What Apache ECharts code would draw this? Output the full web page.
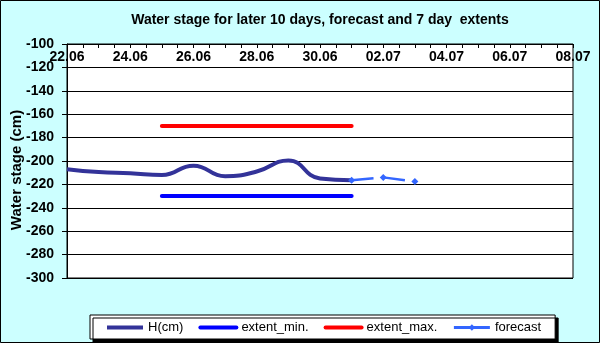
<!DOCTYPE html>
<html>
<head>
<meta charset="utf-8">
<script src="https://cdn.jsdelivr.net/npm/echarts@6/dist/echarts.min.js"></script>
<style>
  html, body { margin: 0; padding: 0; }
  #chart { width: 600px; height: 343px; }
</style>
</head>
<body>
<div id="chart"></div>
<script>
// Date labels for the top axis, one every two days starting 22.06
const dateLabels = ['22.06', '24.06', '26.06', '28.06', '30.06', '02.07', '04.07', '06.07', '08.07'];

// Day offsets (days after 22.06) and observed water stage, cm
const hDays = [0, 1, 2, 3, 4, 5, 6, 7, 8, 9];
const hValues = [-207, -209.5, -210.5, -212, -204, -213, -209, -199.5, -215, -216.5];

// 7-day extents
const extentDays = [3, 9];
const extentMin = [-230, -230];
const extentMax = [-170, -170];

// Forecast
const forecastDays = [9, 10, 11];
const forecastValues = [-216.5, -214, -217.5];

const pairs = (xs, ys) => xs.map((x, i) => [x, ys[i]]);

const font = 'Arial, "Liberation Sans", sans-serif';
const chart = echarts.init(document.getElementById('chart'));

// Legend swatch for the plain lines: thick line, no marker
const plainSwatch = (color) => ({
  itemStyle: { opacity: 0 },
  lineStyle: { color: color, width: 4, type: 'solid' }
});

chart.setOption({
  backgroundColor: '#ccffff',
  animation: false,
  title: {
    text: 'Water stage for later 10 days, forecast and 7 day  extents',
    left: 320,
    top: 13,
    textAlign: 'center',
    padding: 0,
    textStyle: { fontFamily: font, fontSize: 14, fontWeight: 'bold', color: '#000' }
  },
  grid: {
    left: 67, top: 44, width: 506, height: 234,
    show: true, backgroundColor: '#fff', borderColor: '#000', borderWidth: 1
  },
  xAxis: {
    type: 'value',
    position: 'top',
    min: 0, max: 16, interval: 2,
    axisLine: { show: true, lineStyle: { color: '#000', width: 1 } },
    axisTick: { show: true, inside: true, length: 4, lineStyle: { color: '#000' } },
    minorTick: { show: true, splitNumber: 4, length: 4, lineStyle: { color: '#000' } },
    splitLine: { show: false },
    axisLabel: {
      inside: true, margin: 6,
      fontFamily: font, fontSize: 14, fontWeight: 'bold', color: '#000',
      formatter: v => dateLabels[Math.round(v / 2)],
      showMinLabel: true, showMaxLabel: true
    }
  },
  yAxis: {
    type: 'value',
    min: -300, max: -100, interval: 20,
    axisLine: { show: true, lineStyle: { color: '#000', width: 1 } },
    axisTick: { show: true, inside: false, length: 5, lineStyle: { color: '#000' } },
    splitLine: { show: true, lineStyle: { color: '#000', width: 1 } },
    axisLabel: { margin: 13, fontFamily: font, fontSize: 14, fontWeight: 'bold', color: '#000' }
  },
  legend: {
    left: 90, top: 315,
    padding: [6, 14, 5, 15],
    itemWidth: 36, itemHeight: 8, itemGap: 15,
    backgroundColor: '#fff', borderColor: '#000', borderWidth: 1,
    shadowColor: '#000', shadowBlur: 0, shadowOffsetX: 3, shadowOffsetY: 3,
    textStyle: { fontFamily: font, fontSize: 13, color: '#000' },
    data: [
      Object.assign({ name: 'H(cm)' }, plainSwatch('#333399')),
      Object.assign({ name: 'extent_min.' }, plainSwatch('#0000ff')),
      Object.assign({ name: 'extent_max.' }, plainSwatch('#ff0000')),
      { name: 'forecast', lineStyle: { type: 'solid', width: 3 } }
    ]
  },
  graphic: [
    {
      type: 'text', x: 17, y: 170, rotation: Math.PI / 2,
      style: {
        text: 'Water stage (cm)', fontFamily: font, fontSize: 15, fontWeight: 'bold',
        fill: '#000', align: 'center', verticalAlign: 'middle'
      }
    },
    {
      type: 'rect', shape: { x: 0.5, y: 0.5, width: 599, height: 342 },
      style: { fill: null, stroke: '#000', lineWidth: 1 }, z: 100
    }
  ],
  series: [
    {
      name: 'H(cm)', type: 'line', smooth: 0.5, showSymbol: false, symbol: 'none',
      lineStyle: { color: '#333399', width: 4 }, itemStyle: { color: '#333399' },
      data: pairs(hDays, hValues)
    },
    {
      name: 'extent_min.', type: 'line', showSymbol: false, symbol: 'none',
      lineStyle: { color: '#0000ff', width: 4, cap: 'round' }, itemStyle: { color: '#0000ff' },
      data: pairs(extentDays, extentMin)
    },
    {
      name: 'extent_max.', type: 'line', showSymbol: false, symbol: 'none',
      lineStyle: { color: '#ff0000', width: 4, cap: 'round' }, itemStyle: { color: '#ff0000' },
      data: pairs(extentDays, extentMax)
    },
    {
      name: 'forecast', type: 'line', symbol: 'diamond', symbolSize: 7,
      lineStyle: { color: '#3366ff', width: 2.5, type: [22, 9.6] },
      itemStyle: { color: '#3366ff' },
      data: pairs(forecastDays, forecastValues), z: 3
    }
  ]
});
</script>
</body>
</html>
